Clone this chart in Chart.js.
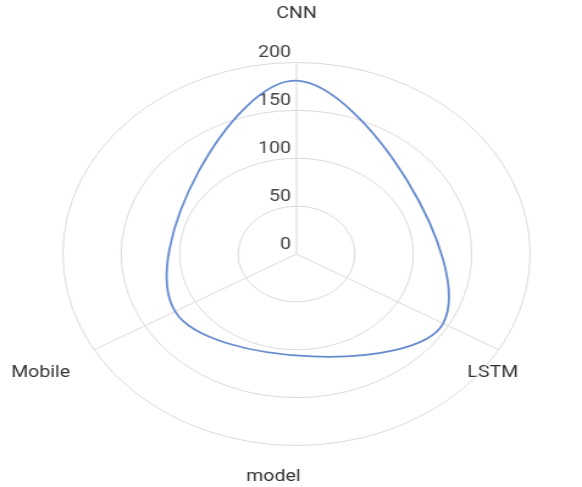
<!DOCTYPE html>
<html>
<head>
<meta charset="utf-8">
<script src="https://cdn.jsdelivr.net/npm/chart.js@4/dist/chart.umd.min.js"></script>
<style>
  html, body { margin: 0; padding: 0; background: #ffffff; overflow: hidden; }
  /* the chart is laid out at 477px and widened to the full 582px page */
  #wrap { position: absolute; left: 0; top: 0; width: 477px; height: 487px; overflow: hidden;
          transform: scaleX(1.2201); transform-origin: 0 0; }
  /* the drawing surface starts a little above and left of the visible frame */
  #holder { position: absolute; left: -29px; top: -28px; width: 506px; height: 515px; }
</style>
</head>
<body>
<div id="wrap"><div id="holder"><canvas id="chart"></canvas></div></div>
<script>
// categories around the radar
const models = ['CNN', 'LSTM', 'Mobile'];
// score of each model
const scores = [181, 145, 120];
// values written along the vertical axis
const tickValues = [0, 50, 100, 150, 200];
const chartTitle = 'model';

const FONT = 'Roboto, "Liberation Sans", sans-serif';
const GRID = '#dadada';

// point label placement: CNN, LSTM, Mobile
const labelPadding = [36.5, -29.8, 22.7];
const labelLineHeight = ['24px', '76px', '24px'];

const pointLabelOptions = (color) => ({
  display: true,
  color: color,
  padding: (ctx) => labelPadding[ctx.index],
  font: (ctx) => ({ family: FONT, size: 16, lineHeight: labelLineHeight[ctx.index] })
});

new Chart(document.getElementById('chart'), {
  type: 'radar',
  data: {
    labels: models,
    datasets: [{
      label: chartTitle,
      data: scores,
      rAxisID: 'r',
      borderColor: 'rgb(102,139,207)',
      backgroundColor: 'rgba(0,0,0,0)',
      borderWidth: 1.8,
      fill: false,
      tension: 0.48,
      pointRadius: 0,
      pointHoverRadius: 0
    }]
  },
  options: {
    responsive: true,
    maintainAspectRatio: false,
    animation: false,
    devicePixelRatio: 1,
    layout: { padding: 0 },
    plugins: {
      legend: { display: false },
      tooltip: { enabled: false },
      title: {
        display: true,
        position: 'bottom',
        text: chartTitle,
        color: '#333333',
        font: { family: FONT, size: 16, weight: 'normal' },
        padding: { top: -10, bottom: 0 }
      }
    },
    scales: {
      // value scale: rings, spokes and category names
      r: {
        type: 'radialLinear',
        min: 0,
        max: 200,
        ticks: { display: false, stepSize: 50 },
        grid: { circular: true, color: GRID, lineWidth: 1 },
        angleLines: { display: true, color: GRID, lineWidth: 1 },
        pointLabels: pointLabelOptions('#333333')
      },
      // companion scale that writes the tick numbers just above each ring
      rLabels: {
        type: 'radialLinear',
        axis: 'r',
        min: -9.5,
        max: 190.5,
        grid: { display: false },
        angleLines: { display: false },
        pointLabels: pointLabelOptions('rgba(0,0,0,0)'),
        afterBuildTicks: (scale) => { scale.ticks = tickValues.map(v => ({ value: v })); },
        ticks: {
          display: true,
          color: '#444444',
          showLabelBackdrop: false,
          backdropPadding: { top: -8, bottom: -8, left: 0, right: 0 },
          font: { family: FONT, size: 16 },
          // trailing figure spaces push the centred number to the left of the spoke
          callback: (v) => String(v) + '\u2007'.repeat(String(v).length + 1)
        }
      }
    }
  }
});
</script>
</body>
</html>
